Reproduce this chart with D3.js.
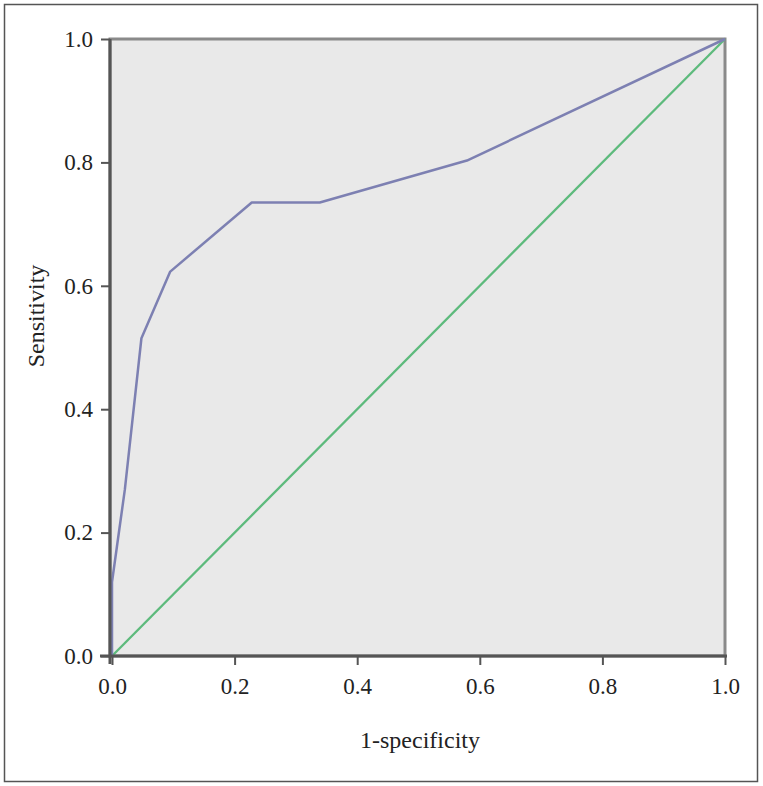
<!DOCTYPE html>
<html>
<head>
<meta charset="utf-8">
<script src="https://cdn.jsdelivr.net/npm/d3@7"></script>
<style>
  body { margin: 0; background: #fff; }
  svg text { font-family: "Liberation Serif", "DejaVu Serif", serif; fill: #222; }
</style>
</head>
<body>
<div id="chart"></div>
<script>
// ROC curve points
var fpr = [0, 0, 0.008, 0.021, 0.048, 0.095, 0.228, 0.339, 0.579, 1];
var tpr = [0, 0.12, 0.177, 0.27, 0.515, 0.623, 0.735, 0.735, 0.803, 1];
var ticks = [0, 0.2, 0.4, 0.6, 0.8, 1.0];
var xTitle = "1-specificity", yTitle = "Sensitivity";

var W = 763, H = 786,
    pLeft = 112, pRight = 725, pTop = 39, pBottom = 656;

var svg = d3.select('#chart').append('svg').attr('width', W).attr('height', H);

// outer frame
svg.append('rect').attr('x', 4.5).attr('y', 4.5).attr('width', 753).attr('height', 777)
  .attr('fill', 'none').attr('stroke', '#555').attr('stroke-width', 1.5);

var x = d3.scaleLinear().domain([0, 1]).range([pLeft, pRight]),
    y = d3.scaleLinear().domain([0, 1]).range([pBottom, pTop]);

// plot background
svg.append('rect').attr('x', x(0) - 2).attr('y', y(1)).attr('width', x(1) - x(0) + 2).attr('height', y(0) - y(1))
  .attr('fill', '#e9e9e9').attr('stroke', '#8a8a8a').attr('stroke-width', 3);

// diagonal reference
svg.append('line').attr('x1', x(0)).attr('y1', y(0)).attr('x2', x(1)).attr('y2', y(1))
  .attr('stroke', '#5dba7c').attr('stroke-width', 2.3);

// ROC curve
var line = d3.line().x(function(d) { return x(d[0]); }).y(function(d) { return y(d[1]); });
svg.append('path').datum(d3.zip(fpr, tpr)).attr('d', line)
  .attr('fill', 'none').attr('stroke', '#7d80b2').attr('stroke-width', 2.5).attr('stroke-linejoin', 'round');

// axes
var xAxis = svg.append('g').attr('transform', 'translate(0,' + pBottom + ')')
  .call(d3.axisBottom(x).tickValues(ticks).tickFormat(d3.format('.1f')).tickSize(9).tickPadding(13));
var yAxis = svg.append('g').attr('transform', 'translate(' + (pLeft - 2) + ',0)')
  .call(d3.axisLeft(y).tickValues(ticks).tickFormat(d3.format('.1f')).tickSize(9).tickPadding(8));

[xAxis, yAxis].forEach(function(g) {
  g.select('.domain').attr('stroke', '#555').attr('stroke-width', 3);
  g.selectAll('.tick line').attr('stroke', '#555').attr('stroke-width', 2);
  g.selectAll('.tick text').style('font-size', '23px').attr('fill', '#222');
});
xAxis.select('.domain').attr('d', 'M' + (pLeft - 12) + ',0H' + (pRight + 2));
yAxis.select('.domain').attr('d', 'M0,' + pTop + 'V' + (pBottom + 8));

// titles
svg.append('text').attr('x', 420).attr('y', 748).attr('text-anchor', 'middle')
  .style('font-size', '24px').text(xTitle);
svg.append('text').attr('transform', 'translate(44,316) rotate(-90)').attr('text-anchor', 'middle')
  .style('font-size', '24px').text(yTitle);
</script>
</body>
</html>
